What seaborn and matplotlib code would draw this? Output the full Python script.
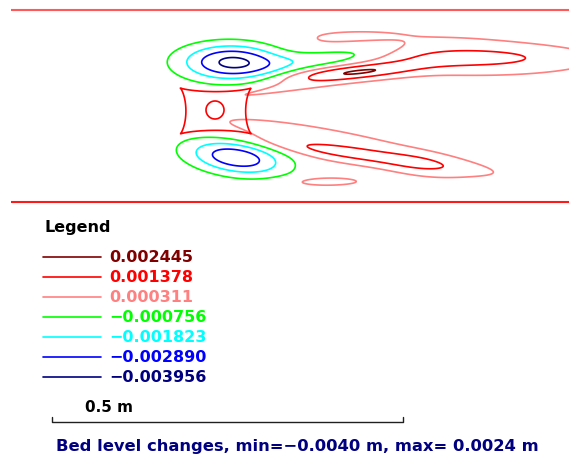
import numpy as np
import matplotlib
matplotlib.use("Agg")
import matplotlib.pyplot as plt
from matplotlib.lines import Line2D
import seaborn as sns

# contour levels of bed level change (m), legend order, and their colours
levels = [0.002445, 0.001378, 0.000311, -0.000756, -0.001823, -0.002890, -0.003956]
level_colors = ['#800000', '#ff0000', '#ff8080', '#00ff00', '#00ffff', '#0000ff', '#000080']

# channel and pier geometry (m)
channel_width = 0.274
channel_length = 0.80
pier_x, pier_y = 0.2913, 0.1299
pier_half_len, pier_half_wid = 0.0508, 0.0329
hole_x, hole_y, hole_r = 0.2902, 0.1313, 0.0134

# scour holes / deposition ridges:
# upper hole, upper tail, lower hole, upper ridge, upper narrow ridge, upper envelope,
# upper tongue, lower ridge, lower ridge end, lower envelope, lower islet
blob_x = [0.3144, 0.4610, 0.3200, 0.6690, 0.4880, 0.5800, 0.3900, 0.4980, 0.5850, 0.4420, 0.4400]
blob_y = [0.1996, 0.2070, 0.0637, 0.2053, 0.1853, 0.2140, 0.1636, 0.0673, 0.0531, 0.0880, 0.0296]
blob_sx = [0.0498, 0.0700, 0.0480, 0.0850, 0.0680, 0.1320, 0.0800, 0.1000, 0.0360, 0.1150, 0.0450]
blob_sy = [0.0181, 0.0100, 0.0164, 0.0103, 0.0071, 0.0200, 0.0060, 0.0078, 0.0100, 0.0135, 0.0051]
blob_amp = [-0.0042, -0.0015, -0.0037, 0.0013, 0.0023, 0.00075, 0.0006, 0.0014, 0.0007, 0.0007, 0.0006]
blob_angle = [0, 6.7, -8, 0, 5, -4, 9, -7.5, -7.5, -10, 0]

# bed level field on the model grid
xg = np.arange(0, channel_length, 0.0005)
yg = np.arange(0, channel_width, 0.0005)
X, Y = np.meshgrid(xg, yg)

Z = np.zeros_like(X)
for bx, by, sx, sy, amp, ang in zip(blob_x, blob_y, blob_sx, blob_sy, blob_amp, blob_angle):
    t = np.deg2rad(ang)
    dx = (X - bx) * np.cos(t) + (Y - by) * np.sin(t)
    dy = -(X - bx) * np.sin(t) + (Y - by) * np.cos(t)
    Z += amp * np.exp(-0.5 * ((dx / sx) ** 2 + (dy / sy) ** 2))

# pier outline (square with pinched sides) and the hole in it
u = (X - pier_x) / pier_half_len
v = (Y - pier_y) / pier_half_wid
q = (np.abs((u + v) / 2) ** 0.8 + np.abs((u - v) / 2) ** 0.8) ** 1.25
r = np.hypot(X - hole_x, Y - hole_y) / hole_r
P = np.exp(-q ** 80) * (1 - np.exp(-r ** 8))

sns.set_theme(style="white")
plt.rcParams['font.family'] = ['DejaVu Sans']

px_per_m = 703
fig = plt.figure(figsize=(5.69, 4.59), dpi=100)
ax = fig.add_axes([0, 0, 1, 1])
ax.set_xlim(-11 / px_per_m, 558 / px_per_m)
ax.set_ylim((202.3 - 459) / px_per_m, 202.3 / px_per_m)
ax.axis('off')

# channel walls
ax.hlines(channel_width, 0, 1, color='#ff5a5a', lw=1.5)
ax.hlines(0, 0, 1, color='#ff1a1a', lw=1.5)

order = np.argsort(levels)
ax.contour(X, Y, Z, levels=np.array(levels)[order],
           colors=list(np.array(level_colors)[order]), linewidths=1.2)
ax.contour(X, Y, P, levels=[0.5], colors='#ff0000', linewidths=1.2)

# legend
fig.text(44 / 569, 1 - 232 / 459, 'Legend', fontsize=11.5, fontweight='bold',
         color='black', va='baseline')
handles = [Line2D([], [], color=c, lw=1.2) for c in level_colors]
labels = [f"{v:.6f}".replace('-', '\u2212') for v in levels]
leg = ax.legend(handles, labels, loc='upper left',
                bbox_to_anchor=(43 / 569, 1 - 250.5 / 459), bbox_transform=fig.transFigure,
                frameon=False, borderpad=0, borderaxespad=0, handlelength=3.6,
                handletextpad=0.55, labelspacing=0.31,
                prop={'weight': 'bold', 'size': 11.5})
for txt, c in zip(leg.get_texts(), level_colors):
    txt.set_color(c)

# scale bar
sb_x, sb_y, sb_tick = 0.0579, -0.3121, 0.006
ax.plot([sb_x, sb_x, sb_x + 0.5, sb_x + 0.5], [sb_y + sb_tick, sb_y, sb_y, sb_y + sb_tick],
        color='#202020', lw=1)
ax.text(0.1053, -0.2987, '0.5 m', fontsize=11, fontweight='bold', color='black', va='baseline')

ax.text(0.064, -0.3538, 'Bed level changes, min=\u22120.0040 m, max= 0.0024 m',
        fontsize=11.8, fontweight='bold', color='#000080', va='baseline')

fig.savefig('out.png', dpi=100)
